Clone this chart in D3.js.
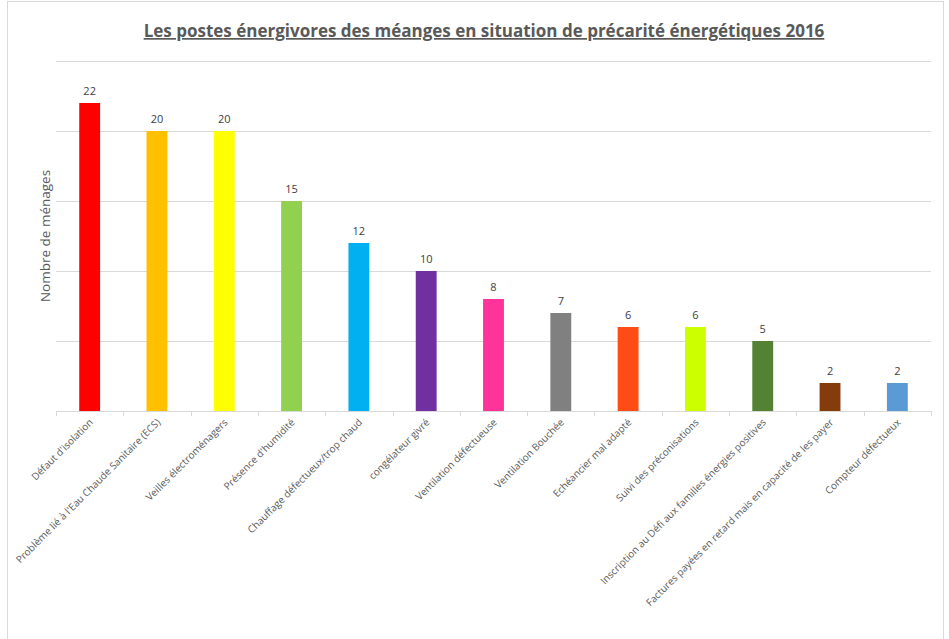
<!DOCTYPE html>
<html>
<head>
<meta charset="utf-8">
<script src="https://cdn.jsdelivr.net/npm/d3@7"></script>
<style>
  body { margin: 0; background: #fff; }
  text { font-family: "Open Sans", "Noto Sans", sans-serif; }
</style>
</head>
<body>
<div class="chart-area"></div>
<script>
// data
const categories = [
  "Défaut d'isolation",
  "Problème lié à l'Eau Chaude Sanitaire (ECS)",
  "Veilles électroménagers",
  "Présence d'humidité",
  "Chauffage défectueux/trop chaud",
  "congélateur givré",
  "Ventilation défectueuse",
  "Ventilation Bouchée",
  "Echéancier mal adapté",
  "Suivi des préconisations",
  "Inscription au Défi aux familles énergies positives",
  "Factures payées en retard mais en capacité de les payer",
  "Compteur défectueux"
];
const values = [22, 20, 20, 15, 12, 10, 8, 7, 6, 6, 5, 2, 2];
const colors = ["#FF0000", "#FFC000", "#FFFF00", "#92D050", "#00B0F0", "#7030A0",
  "#FF3399", "#808080", "#FF4B14", "#CCFF00", "#548235", "#843C0C", "#5B9BD5"];
const yTicks = [0, 5, 10, 15, 20, 25];

const width = 949, height = 639;
const margin = {top: 61, left: 56, right: 18, bottom: 228};

const svg = d3.select(".chart-area").append("svg")
  .attr("width", width)
  .attr("height", height);

// outer frame
svg.append("rect")
  .attr("x", 7.5).attr("y", 1.5)
  .attr("width", 936).attr("height", 660)
  .attr("fill", "none")
  .attr("stroke", "#d9d9d9");

const x = d3.scaleBand()
  .domain(categories)
  .range([margin.left, width - margin.right])
  .paddingInner(0.69)
  .paddingOuter(0.345);

const y = d3.scaleLinear()
  .domain([0, 25])
  .range([height - margin.bottom, margin.top]);

// gridlines
svg.append("g")
  .selectAll("line")
  .data(yTicks.slice(1))
  .join("line")
  .attr("x1", margin.left)
  .attr("x2", width - margin.right)
  .attr("y1", d => Math.round(y(d)) + 0.5)
  .attr("y2", d => Math.round(y(d)) + 0.5)
  .attr("stroke", "#d9d9d9");

// bars
svg.append("g")
  .selectAll("rect")
  .data(values)
  .join("rect")
  .attr("x", (d, i) => x(categories[i]))
  .attr("y", d => y(d))
  .attr("width", x.bandwidth())
  .attr("height", d => y(0) - y(d))
  .attr("fill", (d, i) => colors[i]);

// value labels
svg.append("g")
  .selectAll("text")
  .data(values)
  .join("text")
  .attr("x", (d, i) => x(categories[i]) + x.bandwidth() / 2)
  .attr("y", d => y(d) - 8)
  .attr("text-anchor", "middle")
  .attr("font-size", 11)
  .attr("fill", "#404040")
  .text(d => d);

// x axis: baseline + ticks at category boundaries
const step = x.step();
const xAxis = svg.append("g");
xAxis.append("line")
  .attr("x1", margin.left).attr("x2", width - margin.right)
  .attr("y1", y(0) + 0.5).attr("y2", y(0) + 0.5)
  .attr("stroke", "#d9d9d9");
xAxis.selectAll(".tick")
  .data(d3.range(categories.length + 1))
  .join("line")
  .attr("class", "tick")
  .attr("x1", i => Math.round(margin.left + i * step) + 0.5)
  .attr("x2", i => Math.round(margin.left + i * step) + 0.5)
  .attr("y1", y(0))
  .attr("y2", y(0) + 5)
  .attr("stroke", "#d9d9d9");

// rotated category labels
xAxis.selectAll(".lbl")
  .data(categories)
  .join("text")
  .attr("class", "lbl")
  .attr("transform", d => `translate(${x(d) + x.bandwidth() / 2 + 4},${y(0) + 12}) rotate(-45)`)
  .attr("text-anchor", "end")
  .attr("font-size", 10)
  .attr("fill", "#595959")
  .text(d => d);

// y axis title
svg.append("text")
  .attr("transform", `translate(50,${(y(0) + y(25)) / 2}) rotate(-90)`)
  .attr("text-anchor", "middle")
  .attr("font-size", 13.5)
  .attr("fill", "#595959")
  .text("Nombre de ménages");

// chart title
svg.append("text")
  .attr("x", 484)
  .attr("y", 37)
  .attr("text-anchor", "middle")
  .attr("font-size", 17)
  .attr("font-weight", "bold")
  .attr("fill", "#595959")
  .attr("text-decoration", "underline")
  .text("Les postes énergivores des méanges en situation de précarité énergétiques 2016");
</script>
</body>
</html>
